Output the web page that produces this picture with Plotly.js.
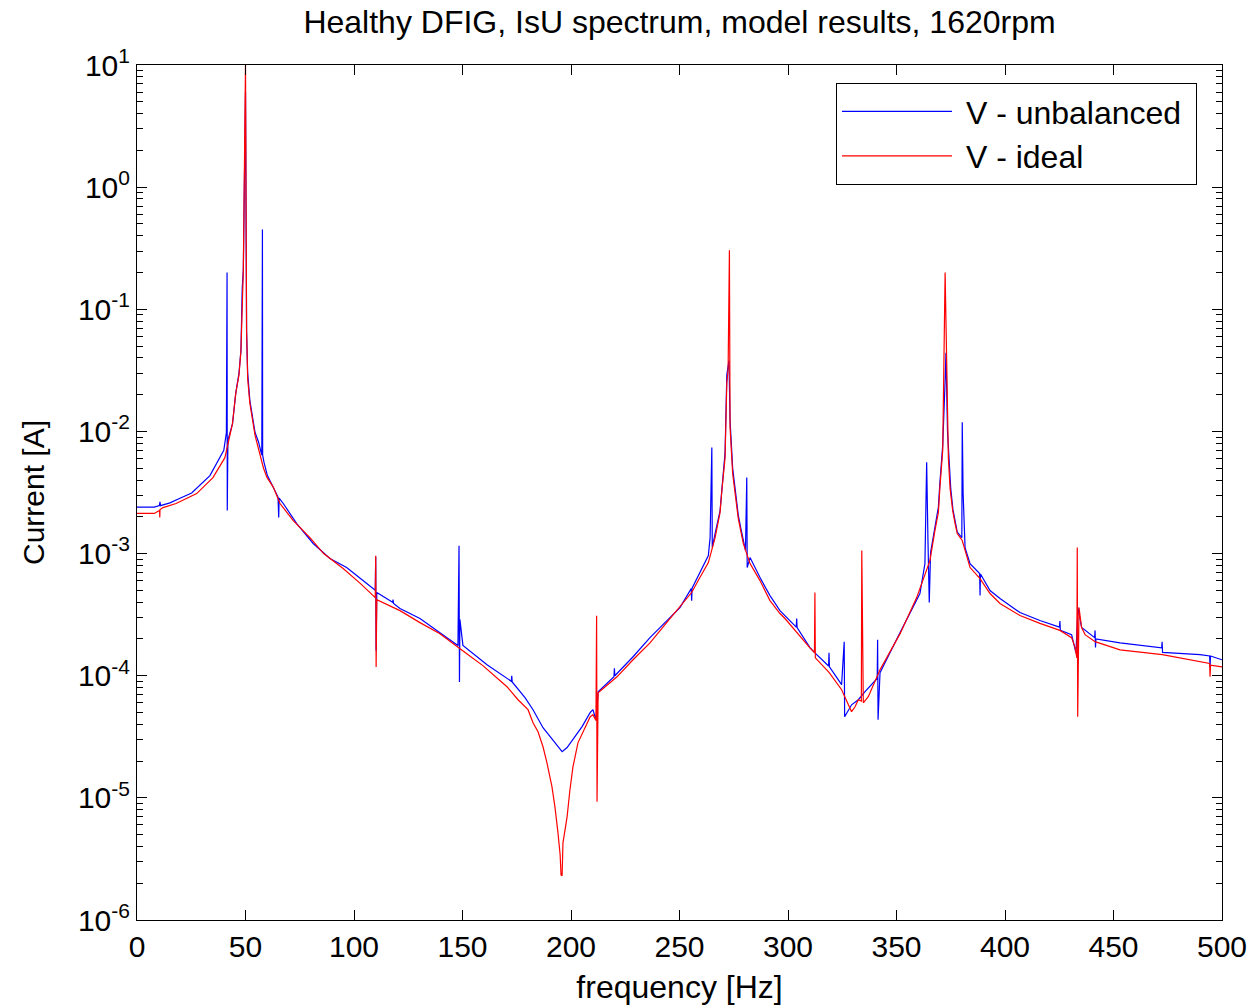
<!DOCTYPE html>
<html>
<head>
<meta charset="utf-8">
<script src="https://cdn.plot.ly/plotly-3.0.1.min.js"></script>
<style>html,body{margin:0;padding:0;background:#fff;}#chart{width:1254px;height:1005px;}</style>
</head>
<body>
<div id="chart"></div>
<script>
// ---- data ----
const freqUnbalanced = [0,8,10.3,10.6,10.8,15.2,19.8,25.2,33.6,38.2,40,41.2,41.5,41.6,41.9,44,45.5,47,47.9,48.5,49,50,50.5,51,52,54.4,56,57.5,57.8,57.9,58.5,60,62.8,65,65.3,65.5,67.4,73.6,81.2,88.9,96.6,104.3,109.8,110,110.2,110.5,117.8,118,118.2,121.2,130.4,139.6,147.9,148.4,148.6,148.8,150.2,161.3,172.5,172.7,172.9,178.8,182.5,187.1,192.6,195,195.9,198.2,200.9,205.1,208.8,210.1,211.5,212.5,219.8,220,220.2,228.6,236.4,245.6,250.2,255.4,255.6,255.8,259.4,263.3,264.1,264.9,265.1,265.4,266.4,268.7,269.4,271,271.8,272.8,273.3,274.5,276,277.1,278.2,279.4,280.4,281,281.2,282.5,287.1,291.7,296.3,303.8,304,304.2,310.1,312.4,318.7,318.9,319.1,324.7,325.9,326.1,329.3,332.4,335.5,341.1,341.3,341.5,342.4,351.6,360.8,363.1,363.9,364.5,365.1,365.7,367.7,369.3,370,371.3,372.4,372.8,373.5,374.2,375,376,377,378,380.1,380.3,380.7,381.6,383.9,388.3,388.5,388.7,393.1,397.7,406.9,416.1,425.1,425.3,425.5,430.7,432.7,433.6,435.3,436.9,441.3,441.5,441.7,441.9,453,472.2,472.4,472.6,489.9,494.3,494.5,494.7,500];
const currentUnbalanced = [2.4e-3,2.4e-3,2.47e-3,2.65e-3,2.47e-3,2.6e-3,2.84e-3,3.13e-3,4.35e-3,6.25e-3,7.0e-3,9.8e-3,0.2,2.25e-3,8.5e-3,1.15e-2,0.0205,0.03,0.046,0.149,0.21,6,0.065,0.03,0.018,0.0098,8.2e-3,6.4e-3,0.45,6.4e-3,5.6e-3,4.4e-3,3.5e-3,2.9e-3,1.97e-3,2.85e-3,2.57e-3,1.76e-3,1.21e-3,0.91e-3,0.768e-3,0.601e-3,0.5e-3,0.94e-3,1.6e-4,0.48e-3,0.4e-3,0.42e-3,0.39e-3,3.55e-4,2.94e-4,2.25e-4,1.77e-4,1.16e-3,0.89e-4,2.9e-4,1.77e-4,1.23e-4,0.9e-4,1.0e-4,0.89e-4,0.661e-4,0.527e-4,0.375e-4,0.283e-4,0.248e-4,0.239e-4,0.258e-4,0.299e-4,0.383e-4,0.498e-4,0.527e-4,0.436e-4,0.74e-4,0.98e-4,1.15e-4,1.0e-4,1.43e-4,2.05e-4,3.0e-4,3.61e-4,0.517e-3,0.412e-3,0.52e-3,0.70e-3,0.963e-3,1.35e-3,7.4e-3,1.12e-3,1.21e-3,1.46e-3,2.25e-3,3.2e-3,6.7e-3,0.029,0.038,1.23e-2,5e-3,3e-3,2.05e-3,1.63e-3,1.28e-3,1.06e-3,4.2e-3,0.768e-3,0.928e-3,0.636e-3,0.453e-3,3.41e-4,2.5e-4,2.94e-4,2.48e-4,1.70e-4,1.54e-4,1.2e-4,1.54e-4,1.18e-4,0.844e-4,1.9e-4,0.462e-4,0.578e-4,0.636e-4,0.74e-4,0.95e-4,1.97e-4,0.436e-4,1.06e-4,2.25e-4,0.471e-3,0.828e-3,5.6e-3,1.28e-3,0.397e-3,1.02e-3,1.7e-3,2.4e-3,3.8e-3,7.7e-3,0.026,0.044,0.01,6e-3,3.4e-3,2.3e-3,1.8e-3,1.5e-3,1.35e-3,0.0119,3.1e-3,1.12e-3,0.828e-3,0.686e-3,0.453e-3,0.68e-3,0.498e-3,0.428e-3,0.329e-3,0.283e-3,0.25e-3,0.28e-3,0.235e-3,2.17e-4,1.54e-4,3.61e-4,2.48e-4,2.35e-4,2.05e-4,2.35e-4,1.7e-4,2.0e-4,1.86e-4,1.69e-4,1.9e-4,1.55e-4,1.49e-4,1.45e-4,1.18e-4,1.45e-4,1.35e-4];

const freqIdeal = [0,8,9.5,10.4,10.5,10.6,12,18,27.5,35,40.5,43,44,45.5,47,47.9,48.5,49,50,50.5,51,52,54.4,56,58.3,59.9,62.8,65.9,72,79.7,86,95,103,109.8,110,110.2,110.5,121.2,130.4,139.6,147.9,151.2,159.4,170.5,175.6,180.2,182.5,184.8,187.1,188.9,191.2,192.6,194,195,195.4,195.9,196.3,198.2,199.5,200.9,203.2,206.5,208.8,210.1,211.5,211.8,212,212.5,221.2,228.6,236.4,245.6,255.6,259.4,263.3,266.4,268.7,269.4,271,271.8,272.4,273,273.3,274.5,276,277.1,278.2,279.4,282.5,287.1,291.7,296.3,298.6,304,310.1,312.2,312.4,312.6,319,324.7,329.3,330.9,332.4,333.8,334,334.7,337,342.4,351.6,359.3,365.4,367.7,369.3,370,371.3,372.4,373.1,373.9,374.7,375.9,377,378,380.3,381.6,383.9,388.5,393.1,397.7,406.9,416.1,425.3,430.7,432.3,433.1,433.3,433.5,434.1,435.3,436.9,441.5,453,472.5,489.9,494.3,494.5,494.7,500];
const currentIdeal = [2.13e-3,2.13e-3,2.21e-3,2.25e-3,1.97e-3,2.29e-3,2.38e-3,2.57e-3,3.1e-3,4.19e-3,6.1e-3,9.6e-3,1.16e-2,0.0205,0.029,0.046,0.149,0.21,10,0.067,0.027,0.017,0.0093,7.3e-3,5.0e-3,4.2e-3,3.5e-3,2.57e-3,1.86e-3,1.35e-3,1.0e-3,0.754e-3,0.568e-3,0.436e-3,0.96e-3,1.18e-4,0.42e-3,3.41e-4,2.72e-4,2.21e-4,1.70e-4,1.55e-4,1.21e-4,0.813e-4,0.636e-4,0.527e-4,0.412e-4,0.348e-4,0.262e-4,0.194e-4,0.124e-4,0.844e-5,0.517e-5,0.341e-5,0.234e-5,0.23e-5,0.428e-5,0.699e-5,1.16e-5,1.79e-5,2.82e-5,3.81e-5,4.6e-5,4.8e-5,4.3e-5,3.1e-4,0.93e-5,0.726e-4,0.98e-4,1.35e-4,1.86e-4,2.94e-4,4.8e-4,6.36e-4,0.844e-3,1.35e-3,2.17e-3,3.1e-3,6.1e-3,0.0248,0.032,0.304,1.08e-2,4.5e-3,2.82e-3,1.93e-3,1.54e-3,1.21e-3,0.828e-3,0.601e-3,0.412e-3,3.23e-4,2.94e-4,2.25e-4,1.69e-4,1.55e-4,0.48e-3,1.4e-4,1.06e-4,0.768e-4,0.508e-4,0.557e-4,0.636e-4,0.62e-4,1.06e-3,0.6e-4,0.673e-4,1.12e-4,2.2e-4,0.436e-3,0.876e-3,1.54e-3,2.17e-3,3.47e-3,6.99e-3,0.2,0.0277,6.1e-3,3.4e-3,2.25e-3,1.76e-3,1.46e-3,1.28e-3,1.06e-3,0.768e-3,0.624e-3,0.471e-3,0.39e-3,0.311e-3,0.268e-3,0.235e-3,0.205e-3,0.170e-3,1.4e-4,1.12e-3,0.462e-4,0.361e-3,0.248e-3,2.17e-4,1.9e-4,1.63e-4,1.49e-4,1.3e-4,1.26e-4,0.98e-4,1.22e-4,1.18e-4];

const xTickVals = [0,50,100,150,200,250,300,350,400,450,500];
const yTickVals = [1e-6,1e-5,1e-4,1e-3,1e-2,1e-1,1,10];
const yTickText = ['10<sup>-6</sup>','10<sup>-5</sup>','10<sup>-4</sup>','10<sup>-3</sup>','10<sup>-2</sup>','10<sup>-1</sup>','10<sup>0</sup>','10<sup>1</sup>'];
const seriesNames = ['V - unbalanced','V - ideal'];

const FONT = '"Liberation Sans", Arial, Helvetica, sans-serif';
const GAP = '\u00a0';

const traces = [
  {x: freqUnbalanced, y: currentUnbalanced, name: GAP + seriesNames[0] + GAP, type: 'scatter', mode: 'lines',
   line: {color: '#0000ff', width: 1.2}},
  {x: freqIdeal, y: currentIdeal, name: GAP + seriesNames[1], type: 'scatter', mode: 'lines',
   line: {color: '#ff0000', width: 1.2}}
];

const layout = {
  width: 1254, height: 1005,
  paper_bgcolor: '#fff', plot_bgcolor: '#fff',
  margin: {l: 137, r: 32, t: 65, b: 85},
  font: {family: FONT, size: 30, color: '#000'},
  title: {text: 'Healthy DFIG, IsU spectrum, model results, 1620rpm', font: {family: FONT, size: 32, color: '#000'},
          x: 0.5, xref: 'paper', y: 1 - 22/1005, yref: 'container', yanchor: 'middle'},
  showlegend: true,
  legend: {x: (1197-137)/1085, xanchor: 'right', y: (920-83)/855, yanchor: 'top',
           bgcolor: '#fff', bordercolor: '#000', borderwidth: 1,
           font: {family: FONT, size: 32, color: '#000'}, itemwidth: 110},
  xaxis: {range: [0, 500], tickvals: xTickVals, ticks: 'inside', ticklen: 10, tickcolor: '#000', tickwidth: 1,
          showline: true, linecolor: '#000', linewidth: 1, mirror: 'ticks', showgrid: false, zeroline: false,
          tickfont: {family: FONT, size: 30, color: '#000'},
          title: {text: 'frequency [Hz]', font: {family: FONT, size: 32, color: '#000'}, standoff: 14}},
  yaxis: {type: 'log', range: [-6, 1], tickvals: yTickVals, ticktext: yTickText, ticks: 'inside', ticklen: 10,
          tickcolor: '#000', tickwidth: 1, showline: true, linecolor: '#000', linewidth: 1, mirror: 'ticks',
          showgrid: false, zeroline: false,
          tickfont: {family: FONT, size: 30, color: '#000'},
          minor: {ticks: 'inside', ticklen: 6, tickcolor: '#000', tickwidth: 1, dtick: 'D1', showgrid: false},
          title: {text: 'Current [A]', font: {family: FONT, size: 30, color: '#000'}, standoff: 24}}
};

Plotly.newPlot('chart', traces, layout, {displayModeBar: false, staticPlot: true});
</script>
</body>
</html>
